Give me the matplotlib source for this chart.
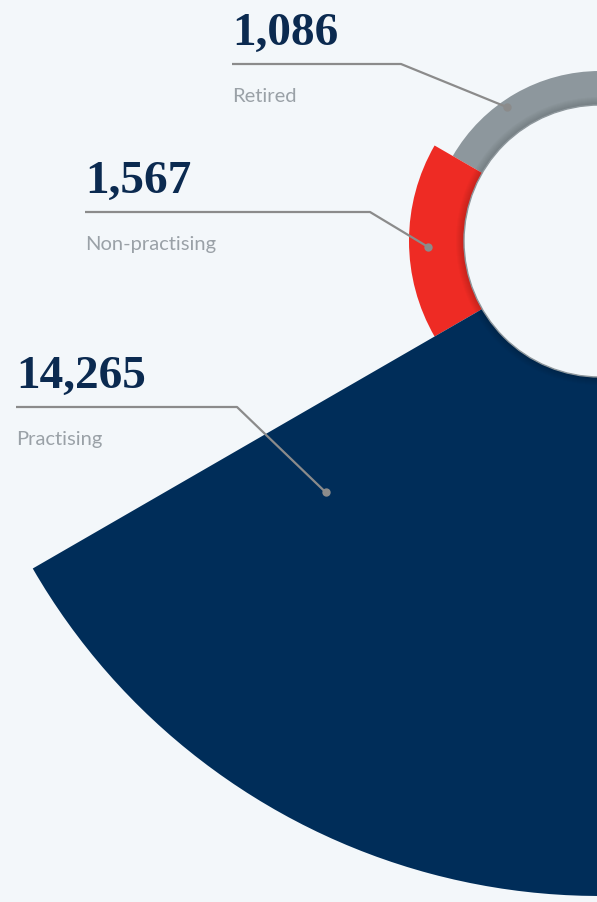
import matplotlib
matplotlib.use("Agg")
import matplotlib.pyplot as plt
from matplotlib.patches import Wedge, Circle
import numpy as np

# data
categories = ["Retired", "Non-practising", "Practising"]
values = [1086, 1567, 14265]
value_labels = ["{:,}".format(v) for v in values]

# styling / layout (pixel space, y measured from top)
BG = "#f3f7fa"
NAVY_TXT = "#0b2a50"
LABEL_GREY = "#9aa1a7"
LEADER = "#8b8b8b"
colors = ["#8d979d", "#ee2b24", "#002d59"]
cx, cy = 600, 242
inner_r = 136
outer_r = [170, 191, 655]
angles = [(30, 150), (150, 210), (-150, 30)]
# label block: x, baseline of number, y of leader, elbow x, dot (angle, radius)
text_x = [232, 85, 16]
num_base = [45, 193, 388]
line_y = [65, 213, 408]
elbow_x = [401, 370, 237]
dot_pol = [(124.8, 163), (182, 172), (222.5, 372)]

H = 903
fig = plt.figure(figsize=(5.97, 9.03), dpi=100)
fig.patch.set_facecolor(BG)
ax = fig.add_axes([0, 0, 1, 1])
ax.set_xlim(0, 597)
ax.set_ylim(0, H)
ax.set_aspect("equal")
ax.axis("off")

# segments
for i in range(len(values)):
    t1, t2 = angles[i]
    ax.add_patch(Wedge((cx, H - cy), outer_r[i], t1, t2, width=outer_r[i] - (inner_r - 2) if i < 2 else None,
                       facecolor=colors[i], edgecolor="none", zorder=2))

# soft shadow of the inner disc
for k in range(8):
    ax.add_patch(Circle((cx, H - cy), inner_r + 8 - k, facecolor="black", alpha=0.02,
                        edgecolor="none", zorder=3))
ax.add_patch(Circle((cx, H - cy), inner_r, facecolor=BG, edgecolor="#8e979c", lw=1.0, zorder=4))

# labels and leaders
for i in range(len(values)):
    ax.text(text_x[i], H - num_base[i], value_labels[i], family="Liberation Serif", weight="bold",
            fontsize=34, color=NAVY_TXT, va="baseline", ha="left", zorder=5)
    ax.text(text_x[i], H - (line_y[i] + 37), categories[i], family="Lato", fontsize=14.5,
            color=LABEL_GREY, va="baseline", ha="left", zorder=5)
    a, r = dot_pol[i]
    dx = cx + r * np.cos(np.radians(a))
    dy = H - cy + r * np.sin(np.radians(a))
    ax.plot([text_x[i], elbow_x[i], dx], [H - line_y[i], H - line_y[i], dy],
            color=LEADER, lw=1.6, solid_capstyle="butt", zorder=6)
    ax.plot(dx, dy, "o", color=LEADER, ms=6, mec="none", zorder=7)

fig.savefig("out.png", dpi=100, facecolor=BG)
